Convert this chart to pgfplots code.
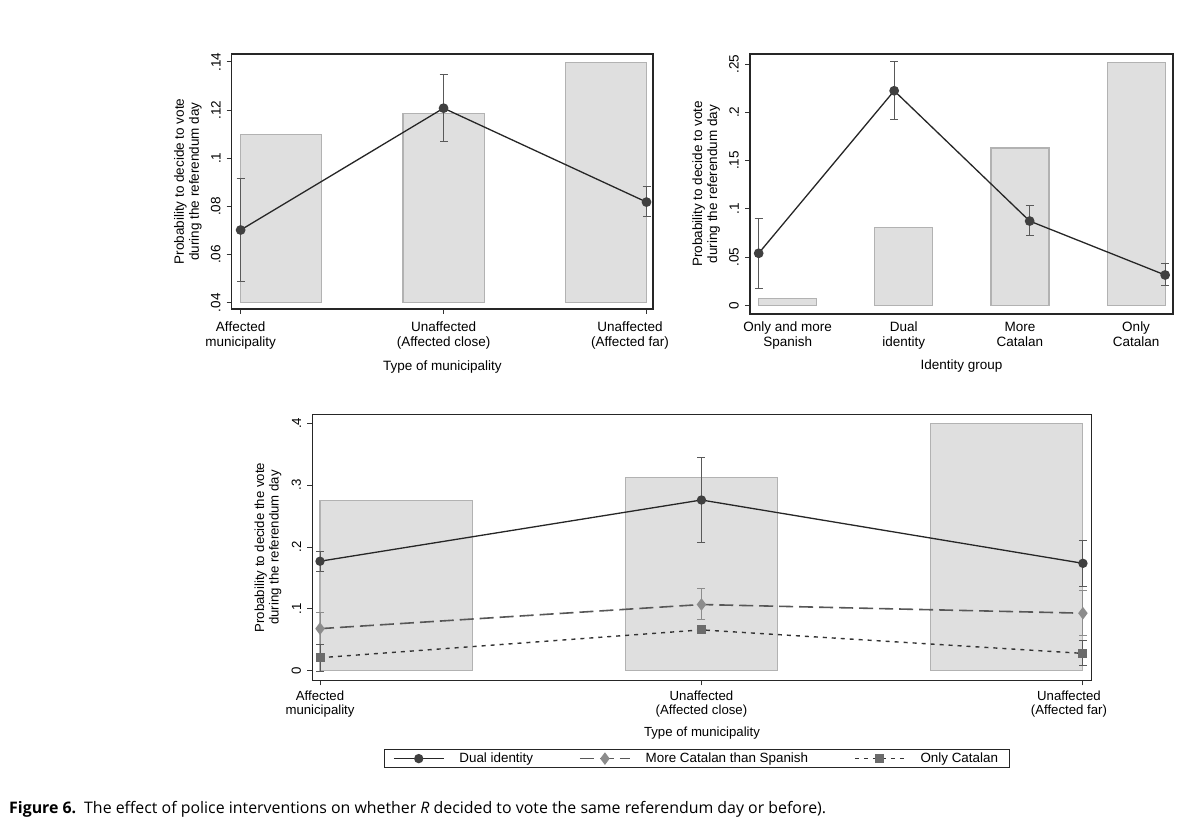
\documentclass[border=0pt]{standalone}
\usepackage{fontspec}
\setmainfont{Liberation Sans}
\newfontfamily\capfont{Open Sans}
\usepackage{pgfplots}
\usepackage{pgfplotstable}
\pgfplotsset{compat=1.18}

\definecolor{barfill}{gray}{0.875}
\definecolor{baredge}{gray}{0.70}
\definecolor{lineblk}{gray}{0.15}
\definecolor{dotdark}{gray}{0.25}
\definecolor{errgray}{gray}{0.35}
\definecolor{diagray}{gray}{0.55}
\definecolor{sqgray}{gray}{0.42}

% Predicted probabilities with confidence bounds (plus / minus)
\pgfplotstableread{
x y ep em
0 0.0702 0.0215 0.0212
1 0.1208 0.0141 0.0139
2 0.0818 0.0064 0.0061
}\munidata

\pgfplotstableread{
x y ep em
0 0.0539 0.0358 0.0363
1 0.2223 0.0301 0.0296
2 0.0873 0.0159 0.0152
3 0.0314 0.0121 0.0111
}\identdata

\pgfplotstableread{
x y ep em
0 0.177 0.015 0.016
1 0.276 0.069 0.068
2 0.1736 0.0374 0.0376
}\dualdata

\pgfplotstableread{
x y ep em
0 0.068 0.0266 0.0255
1 0.107 0.026 0.025
2 0.093 0.037 0.0364
}\moredata

\pgfplotstableread{
x y ep em
0 0.021 0.022 0.023
1 0.066 0.006 0.006
2 0.028 0.021 0.0193
}\onlydata

\pgfplotsset{
  statabox/.style={
    scale only axis,
    axis line style={line width=1.3pt, color=black!85},
    tick align=outside,
    major tick length=5pt,
    tick style={line width=1pt, color=black!80},
    tick pos=left,
    font=\fontsize{13.5}{15}\selectfont,
    % labels are rotated, so a local y shift moves them away from the axis
    yticklabel style={rotate=90, anchor=south, inner sep=1.5pt, yshift=4.5pt},
    xticklabel style={align=center, inner sep=2pt},
    ylabel style={align=center, anchor=center},
    xlabel style={anchor=center},
    clip=false,
  },
  histbar/.style={fill=barfill, draw=baredge, line width=1.1pt, forget plot},
  ci/.style={
    error bars/y dir=both, error bars/y explicit,
    error bars/error bar style={line width=1pt, color=#1, solid},
    error bars/error mark options={rotate=90, mark size=4pt, line width=1pt, color=#1}},
  estline/.style={color=lineblk, line width=1.3pt, mark=*,
    mark size=4.2pt, mark options={fill=dotdark, draw=dotdark, solid}, ci=errgray},
}

\begin{document}
\begin{tikzpicture}
\useasboundingbox (0pt,0pt) rectangle (1199pt,836pt);
\fill[white] (0pt,0pt) rectangle (1199pt,836pt);

% Top left: type of municipality
\begin{axis}[statabox,
  at={(231.7pt,527pt)}, anchor=south west,
  width=421.3pt, height=255pt,
  xmin=-0.044, xmax=2.032, ymin=0.0374, ymax=0.1433,
  xtick={0,1,2},
  xticklabel style={yshift=-6pt, xshift={ifthenelse(\ticknum==2,-16.5,0)}},
  xticklabels={{Affected\\municipality},{Unaffected\\(Affected close)},{Unaffected\\(Affected far)}},
  ytick={0.04,0.06,0.08,0.10,0.12,0.14},
  yticklabels={.04,.06,.08,.1,.12,.14},
  xlabel={Type of municipality},
  ylabel={Probability to decide to vote\\during the referendum day},
  xlabel style={at={(axis description cs:0.5,-0.226)}},
  ylabel style={at={(axis description cs:-0.104,0.5)}},
]
\addplot[histbar] coordinates {(0,0.04) (0,0.110) (0.4,0.110) (0.4,0.04)} -- cycle;
\addplot[histbar] coordinates {(0.8,0.04) (0.8,0.1187) (1.2,0.1187) (1.2,0.04)} -- cycle;
\addplot[histbar] coordinates {(1.6,0.04) (1.6,0.1397) (2.0,0.1397) (2.0,0.04)} -- cycle;
\addplot[estline] table[x=x, y=y, y error plus=ep, y error minus=em] {\munidata};
\end{axis}

% Top right: identity group
\begin{axis}[statabox,
  at={(750pt,522pt)}, anchor=south west,
  width=423pt, height=260pt,
  xmin=-0.064, xmax=3.058, ymin=-0.009, ymax=0.2604,
  xtick={0.2143,1.0714,1.9286,2.7857},
  x tick style={draw=none},
  xticklabel style={yshift=-1pt},
  xticklabels={{Only and more\\Spanish},{Dual\\identity},{More\\Catalan},{Only\\Catalan}},
  ytick={0,0.05,0.10,0.15,0.20,0.25},
  yticklabels={0,.05,.1,.15,.2,.25},
  xlabel={Identity group},
  ylabel={Probability to decide to vote\\during the referendum day},
  xlabel style={at={(axis description cs:0.5,-0.2)}},
  ylabel style={at={(axis description cs:-0.104,0.5)}},
]
\addplot[histbar] coordinates {(0,0) (0,0.0073) (0.4286,0.0073) (0.4286,0)} -- cycle;
\addplot[histbar] coordinates {(0.8571,0) (0.8571,0.0804) (1.2857,0.0804) (1.2857,0)} -- cycle;
\addplot[histbar] coordinates {(1.7143,0) (1.7143,0.163) (2.1429,0.163) (2.1429,0)} -- cycle;
\addplot[histbar] coordinates {(2.5714,0) (2.5714,0.2514) (3.0,0.2514) (3.0,0)} -- cycle;
\addplot[estline] table[x=x, y=y, y error plus=ep, y error minus=em] {\identdata};
\end{axis}

% Bottom: municipality type by identity group
\begin{axis}[statabox,
  font=\fontsize{13.2}{14.5}\selectfont,
  at={(312.3pt,155.7pt)}, anchor=south west,
  width=779.4pt, height=265.6pt,
  xmin=-0.0202, xmax=2.023, ymin=-0.0155, ymax=0.4139,
  xtick={0,1,2},
  xticklabel style={yshift=-3pt, xshift={ifthenelse(\ticknum==2,-14,0)}},
  xticklabels={{Affected\\municipality},{Unaffected\\(Affected close)},{Unaffected\\(Affected far)}},
  ytick={0,0.1,0.2,0.3,0.4},
  yticklabels={0,.1,.2,.3,.4},
  xlabel={Type of municipality},
  ylabel={Probability to decide the vote\\during the referendum day},
  xlabel style={at={(axis description cs:0.5,-0.2)}},
  ylabel style={at={(axis description cs:-0.057,0.5)}},
  legend columns=3,
  legend cell align=left,
  legend style={at={(0.493,-0.2587)}, anchor=north, draw=black!85,
    line width=1pt, inner xsep=9pt, inner ysep=1.5pt,
    font=\fontsize{13.4}{14.5}\selectfont,
    /tikz/every odd column/.append style={column sep=13pt},
    /tikz/every even column/.append style={column sep=44pt}},
  legend image code/.code={\draw[mark repeat=2, mark phase=2, #1]
    plot coordinates {(0pt,0pt) (25pt,0pt) (50pt,0pt)};},
]
\addplot[histbar] coordinates {(0,0) (0,0.275) (0.4,0.275) (0.4,0)} -- cycle;
\addplot[histbar] coordinates {(0.8,0) (0.8,0.3127) (1.2,0.3127) (1.2,0)} -- cycle;
\addplot[histbar] coordinates {(1.6,0) (1.6,0.400) (2.0,0.400) (2.0,0)} -- cycle;
\addplot[estline, mark size=4pt] table[x=x, y=y, y error plus=ep, y error minus=em] {\dualdata};
\addlegendentry{Dual identity}
\addplot[color=black!66, line width=1.6pt, dash pattern=on 14pt off 6pt,
  mark=diamond*, mark size=5pt, mark options={fill=diagray, draw=diagray, solid},
  ci=diagray]
  table[x=x, y=y, y error plus=ep, y error minus=em] {\moredata};
\addlegendentry{More Catalan than Spanish}
\addplot[color=black!80, line width=1.4pt, dash pattern=on 4pt off 5pt,
  mark=square*, mark size=3.8pt, mark options={fill=sqgray, draw=sqgray, solid},
  ci=errgray]
  table[x=x, y=y, y error plus=ep, y error minus=em] {\onlydata};
\addlegendentry{Only Catalan}
\end{axis}

\node[anchor=base west, inner sep=0pt, font=\capfont\fontsize{15.9}{18}\selectfont]
  at (9pt,23pt) {\textbf{Figure 6.}\enspace The effect of police interventions on whether \textit{R} decided to vote the same referendum day or before).};
\end{tikzpicture}
\end{document}
